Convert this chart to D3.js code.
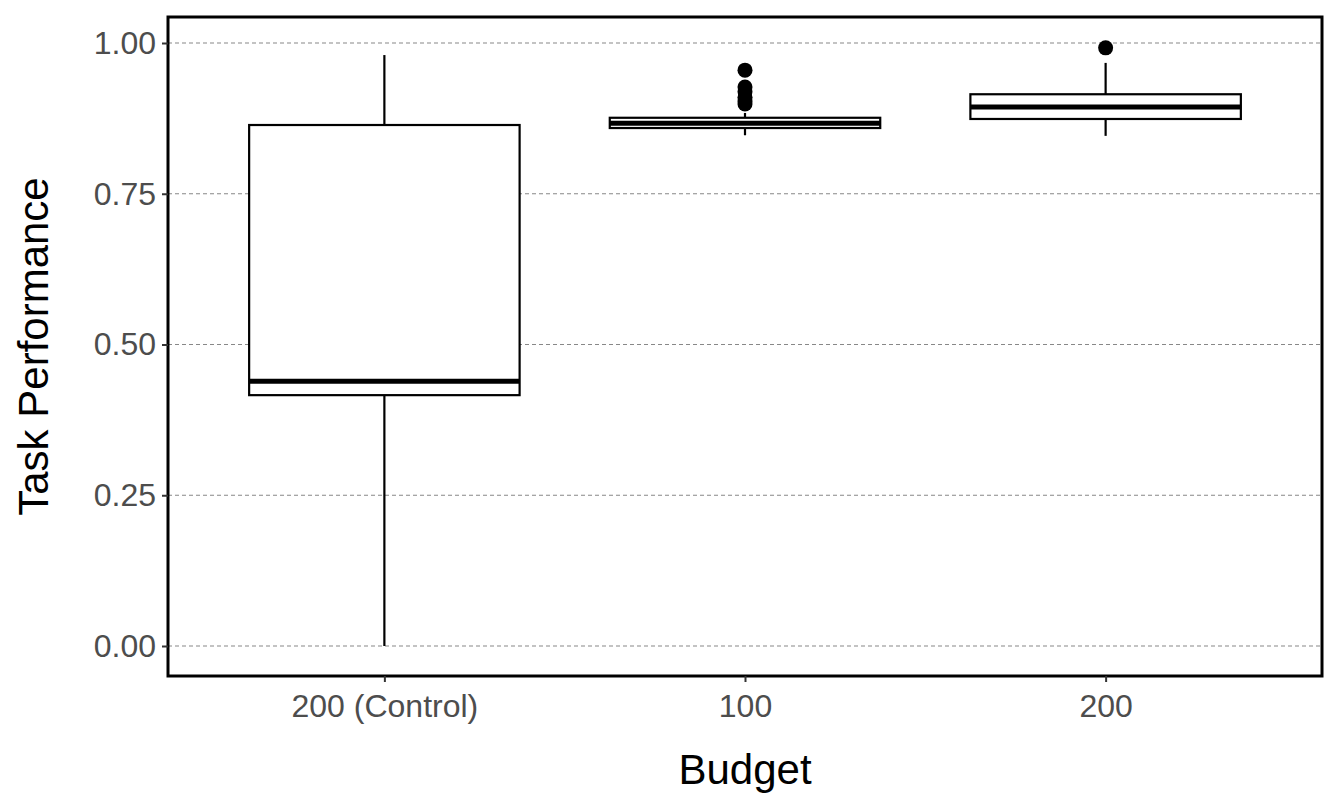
<!DOCTYPE html>
<html><head><meta charset="utf-8">
<script src="https://cdn.jsdelivr.net/npm/d3@7"></script>
<style>body{margin:0;background:#fff}svg{font-family:"Liberation Sans",Arial,sans-serif}</style>
</head><body><svg id="chart" width="1329" height="798"></svg>
<script>
const categories = ["200 (Control)", "100", "200"];
const lowerWhisker = [0.000, 0.847, 0.846];
const q1 = [0.416, 0.859, 0.874];
const median = [0.439, 0.867, 0.894];
const q3 = [0.864, 0.876, 0.915];
const upperWhisker = [0.980, 0.884, 0.967];
const outliers = [[], [0.955, 0.927, 0.919, 0.910, 0.904, 0.899], [0.992]];
const yTicks = [0, 0.25, 0.5, 0.75, 1];

const pLeft = 168, pRight = 1322, pTop = 17, pBottom = 676;
const svg = d3.select("#chart");

// ggplot-style discrete expansion of 0.6 units each side
const x = d3.scaleLinear().domain([-0.6, categories.length - 1 + 0.6]).range([pLeft, pRight]);
const unit = x(1) - x(0);
const y = d3.scaleLinear().domain([0, 1]).range([646, 43]);

svg.append("g").selectAll("line").data(yTicks).join("line")
  .attr("x1", pLeft).attr("x2", pRight)
  .attr("y1", d => y(d)).attr("y2", d => y(d))
  .attr("stroke", "#888").attr("stroke-dasharray", "4,3").attr("stroke-width", 1.2);

const bw = unit * 0.75;
const g = svg.append("g").selectAll("g").data(categories).join("g");
g.append("line")
  .attr("x1", (d, i) => x(i)).attr("x2", (d, i) => x(i))
  .attr("y1", (d, i) => y(upperWhisker[i])).attr("y2", (d, i) => y(q3[i]))
  .attr("stroke", "#000").attr("stroke-width", 2.2);
g.append("line")
  .attr("x1", (d, i) => x(i)).attr("x2", (d, i) => x(i))
  .attr("y1", (d, i) => y(q1[i])).attr("y2", (d, i) => y(lowerWhisker[i]))
  .attr("stroke", "#000").attr("stroke-width", 2.2);
g.append("rect")
  .attr("x", (d, i) => x(i) - bw / 2).attr("width", bw)
  .attr("y", (d, i) => y(q3[i])).attr("height", (d, i) => y(q1[i]) - y(q3[i]))
  .attr("fill", "#fff").attr("stroke", "#000").attr("stroke-width", 2.2);
g.append("line")
  .attr("x1", (d, i) => x(i) - bw / 2).attr("x2", (d, i) => x(i) + bw / 2)
  .attr("y1", (d, i) => y(median[i])).attr("y2", (d, i) => y(median[i]))
  .attr("stroke", "#000").attr("stroke-width", 5);
g.each(function(d, i) {
  d3.select(this).selectAll("circle").data(outliers[i]).join("circle")
    .attr("cx", x(i)).attr("cy", v => y(v)).attr("r", 7.5).attr("fill", "#000");
});

svg.append("rect").attr("x", pLeft).attr("y", pTop).attr("width", pRight - pLeft).attr("height", pBottom - pTop)
  .attr("fill", "none").attr("stroke", "#000").attr("stroke-width", 3);

const yAxis = svg.append("g").attr("transform", `translate(${pLeft},0)`)
  .call(d3.axisLeft(y).tickValues(yTicks).tickFormat(d3.format(".2f")).tickSize(6).tickPadding(6));
const xAxis = svg.append("g").attr("transform", `translate(0,${pBottom})`)
  .call(d3.axisBottom(x).tickValues(d3.range(categories.length)).tickFormat(i => categories[i]).tickSize(6).tickPadding(6));
[yAxis, xAxis].forEach(a => {
  a.select(".domain").remove();
  a.selectAll(".tick line").attr("stroke", "#333").attr("stroke-width", 2);
  a.selectAll("text").attr("fill", "#4d4d4d").attr("font-size", 32).attr("font-family", "Liberation Sans, Arial, sans-serif");
});
xAxis.selectAll("text").attr("dy", "0.9em");

svg.append("text").attr("x", (pLeft + pRight) / 2).attr("y", 784).attr("text-anchor", "middle")
  .attr("font-size", 42).text("Budget");
svg.append("text").attr("transform", `translate(48,${(pTop + pBottom) / 2}) rotate(-90)`).attr("text-anchor", "middle")
  .attr("font-size", 42).text("Task Performance");
</script></body></html>
